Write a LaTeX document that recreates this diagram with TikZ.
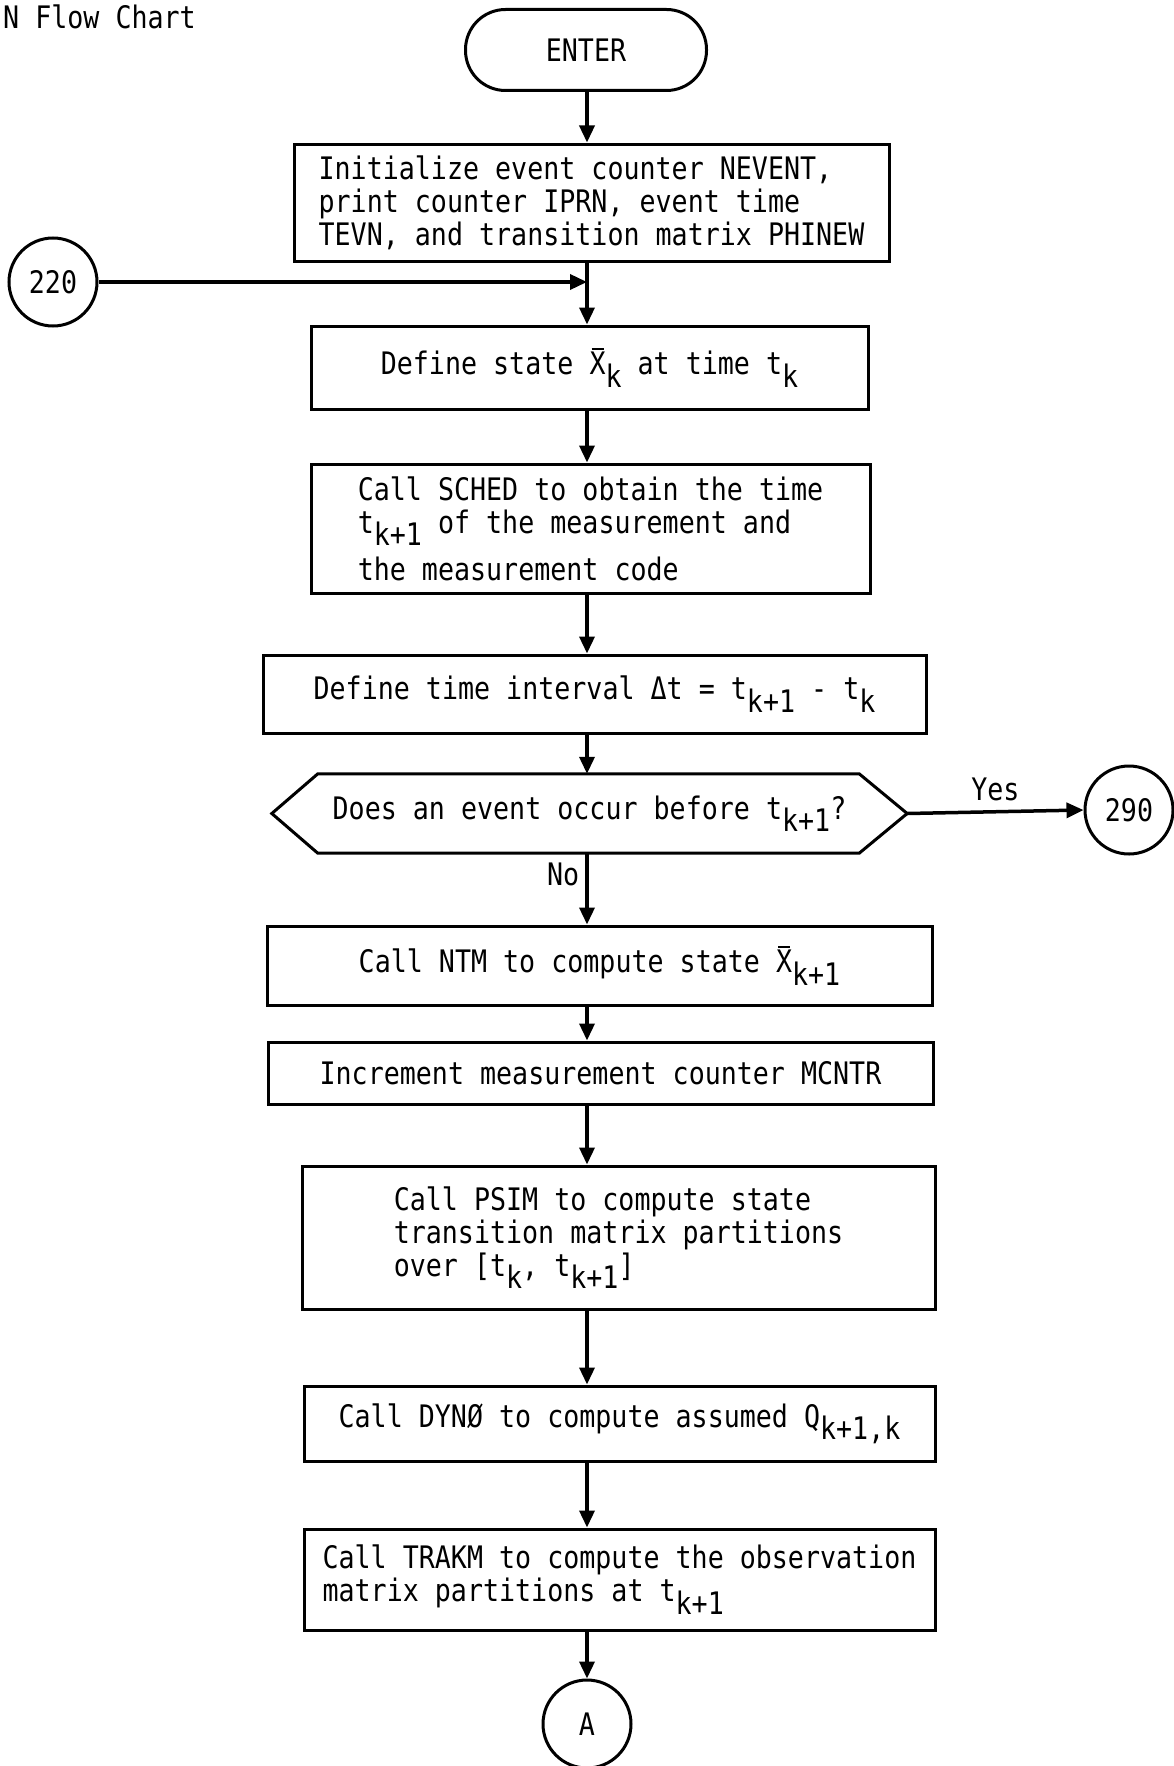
\documentclass[tikz,border=0pt]{standalone}
\usepackage{fontspec}
\newfontfamily\tw{DejaVu Sans Mono}[FakeStretch=0.86]
\usetikzlibrary{arrows.meta,calc}
\newcommand\dn[1]{\raisebox{-0.4em}{#1}}
\newcommand\xb{\leavevmode\rlap{\hspace{2pt}\raisebox{25pt}{\rule{12pt}{1.8pt}}}X}
\begin{document}
\begin{tikzpicture}[x=1pt,y=-1pt,
  every node/.style={font={\tw\fontsize{31}{33}\selectfont}},
  box/.style={draw, line width=3pt, inner sep=0pt, align=left},
  circ/.style={draw, circle, line width=3pt, minimum size=88pt, inner sep=0pt},
  arr/.style={line width=3.5pt, -{Triangle[width=15pt,length=17pt]}},
  lbl/.style={inner sep=0pt}
]
\useasboundingbox (0,0) rectangle (1174,1766);
\coordinate (ax) at (587,0);

\node[lbl, anchor=west] (title) at (3,17) {N Flow Chart};

\node[draw, line width=3pt, rounded corners=40pt, minimum width=241pt, minimum height=81pt] (enter) at (586,50) {ENTER};

\node[box, minimum width=595pt, minimum height=117pt] (init) at (591.5,202.5)
  {Initialize event counter NEVENT,\\print counter IPRN, event time\\TEVN, and transition matrix PHINEW};

\node[circ] (c220) at (53,282) {220};
\coordinate (j) at (587,282);

\node[box, minimum width=557pt, minimum height=83pt] (state) at (589.5,367.5)
  {Define state \xb\dn{k} at time t\dn{k}};

\node[box, minimum width=559pt, minimum height=129pt] (sched) at (590.5,528.5)
  {Call SCHED to obtain the time\\t\dn{k+1} of the measurement and\\[10pt]the measurement code};

\node[box, minimum width=663pt, minimum height=78pt] (interval) at (594.5,694)
  {Define time interval Δt = t\dn{k+1} - t\dn{k}};

\node[lbl, minimum width=635pt, minimum height=79pt] (dec) at (589.5,813.5)
  {Does an event occur before t\dn{k+1}?};
\draw[line width=3pt] (dec.west) -- ($(dec.north west)+(46,0)$) -- ($(dec.north east)+(-48,0)$)
  -- (dec.east) -- ($(dec.south east)+(-48,0)$) -- ($(dec.south west)+(46,0)$) -- cycle;

\node[circ] (c290) at (1129,810) {290};

\node[box, minimum width=665pt, minimum height=79pt] (ntm) at (599.5,965.5)
  {Call NTM to compute state \xb\dn{k+1}};

\node[box, minimum width=665pt, minimum height=62pt] (inc) at (600.5,1073)
  {Increment measurement counter MCNTR};

\node[box, minimum width=633pt, minimum height=143pt] (psim) at (618.5,1237.5)
  {Call PSIM to compute state\\transition matrix partitions\\over [t\dn{k}, t\dn{k+1}]};

\node[box, minimum width=631pt, minimum height=75pt] (dyn) at (619.5,1423.5)
  {Call DYNØ to compute assumed Q\dn{k+1,k}};

\node[box, minimum width=631pt, minimum height=101pt] (trakm) at (619.5,1579.5)
  {Call TRAKM to compute the observation\\matrix partitions at t\dn{k+1}};

\node[circ] (cA) at (587,1724) {A};

\draw[arr] (enter.south -| ax) -- (init.north -| ax);
\draw[arr] (c220.east) -- (j);
\draw[arr] (init.south -| ax) -- (state.north -| ax);
\draw[arr] (state.south -| ax) -- (sched.north -| ax);
\draw[arr] (sched.south -| ax) -- (interval.north -| ax);
\draw[arr] (interval.south -| ax) -- (dec.north -| ax);
\draw[arr] (dec.east) -- node[lbl, above=9pt] (yes) {Yes} (c290.west);
\draw[arr] (dec.south -| ax) -- node[lbl, left=6pt, pos=0.3] (no) {No} (ntm.north -| ax);
\draw[arr] (ntm.south -| ax) -- (inc.north -| ax);
\draw[arr] (inc.south -| ax) -- (psim.north -| ax);
\draw[arr] (psim.south -| ax) -- (dyn.north -| ax);
\draw[arr] (dyn.south -| ax) -- (trakm.north -| ax);
\draw[arr] (trakm.south -| ax) -- (cA.north);
\end{tikzpicture}
\end{document}
